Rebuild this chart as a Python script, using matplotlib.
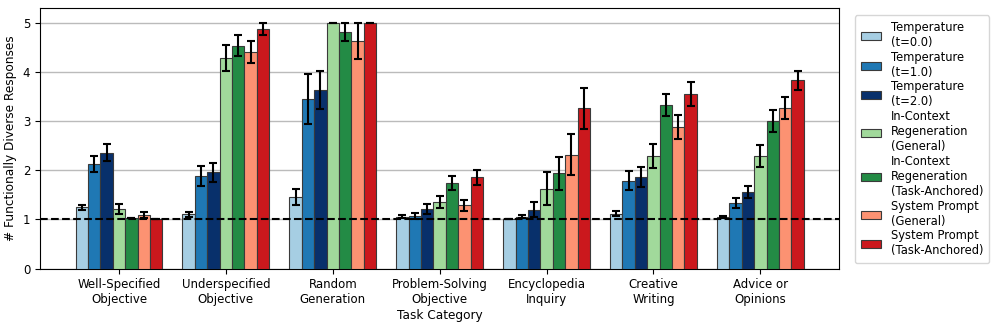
import matplotlib
matplotlib.use("Agg")
import matplotlib.pyplot as plt
import numpy as np

categories = ["Well-Specified\nObjective", "Underspecified\nObjective", "Random\nGeneration",
              "Problem-Solving\nObjective", "Encyclopedia\nInquiry", "Creative\nWriting",
              "Advice or\nOpinions"]

methods = ["Temperature\n(t=0.0)", "Temperature\n(t=1.0)", "Temperature\n(t=2.0)",
           "In-Context\nRegeneration\n(General)", "In-Context\nRegeneration\n(Task-Anchored)",
           "System Prompt\n(General)", "System Prompt\n(Task-Anchored)"]

# mean values per method, one entry per category
temp_t0 = [1.25, 1.11, 1.45, 1.06, 1.00, 1.12, 1.05]
temp_t1 = [2.13, 1.88, 3.46, 1.07, 1.06, 1.79, 1.33]
temp_t2 = [2.36, 1.96, 3.64, 1.21, 1.20, 1.87, 1.56]
icr_general = [1.22, 4.29, 5.00, 1.36, 1.63, 2.29, 2.29]
icr_task = [1.03, 4.54, 4.82, 1.74, 1.94, 3.33, 3.00]
sp_general = [1.09, 4.41, 4.63, 1.29, 2.32, 2.88, 3.27]
sp_task = [1.00, 4.88, 5.00, 1.86, 3.26, 3.55, 3.83]

# error bar half-widths
err_t0 = [0.05, 0.05, 0.16, 0.03, 0.00, 0.05, 0.03]
err_t1 = [0.17, 0.20, 0.51, 0.06, 0.04, 0.19, 0.10]
err_t2 = [0.18, 0.19, 0.39, 0.10, 0.15, 0.20, 0.13]
err_icr_general = [0.10, 0.26, 0.00, 0.12, 0.34, 0.25, 0.22]
err_icr_task = [0.01, 0.22, 0.18, 0.14, 0.34, 0.23, 0.23]
err_sp_general = [0.07, 0.23, 0.36, 0.11, 0.42, 0.25, 0.22]
err_sp_task = [0.00, 0.12, 0.00, 0.15, 0.41, 0.24, 0.20]

means = [temp_t0, temp_t1, temp_t2, icr_general, icr_task, sp_general, sp_task]
errors = [err_t0, err_t1, err_t2, err_icr_general, err_icr_task, err_sp_general, err_sp_task]
colors = ["#a6cee3", "#1f78b4", "#08306b", "#a1d99b", "#238b45", "#fc9272", "#cb181d"]

plt.rcParams["font.size"] = 8.5

fig = plt.figure(figsize=(9.97, 3.26), dpi=100)
ax = fig.add_axes([0.040, 0.176, 0.802, 0.799])

x = np.arange(len(categories))
width = 0.116
for i, (m, e, c, lab) in enumerate(zip(means, errors, colors, methods)):
    offset = (i - 3) * width
    ax.bar(x + offset, m, width, yerr=e, color=c, edgecolor="#3a3a3a", linewidth=0.8,
           label=lab, capsize=3, error_kw=dict(ecolor="black", elinewidth=1.5, capthick=1.5),
           zorder=3)

ax.axhline(1, color="black", linestyle="--", linewidth=1.5, zorder=4)
ax.yaxis.grid(True, color="#bbbbbb", linewidth=1, zorder=0)
ax.set_axisbelow(True)

ax.set_xticks(x)
ax.set_xticklabels(categories)
ax.set_xlim(-0.74, 6.74)
ax.set_ylim(0, 5.3)
ax.set_yticks([0, 1, 2, 3, 4, 5])
ax.set_xlabel("Task Category", labelpad=2, fontsize=8.7)
ax.set_ylabel("# Functionally Diverse Responses", fontsize=8.7)

ax.legend(loc="upper left", bbox_to_anchor=(1.012, 0.995), fontsize=8.3,
          handlelength=1.8, labelspacing=0.15, borderpad=0.5, handletextpad=0.8)

fig.savefig("out.png", dpi=100)
